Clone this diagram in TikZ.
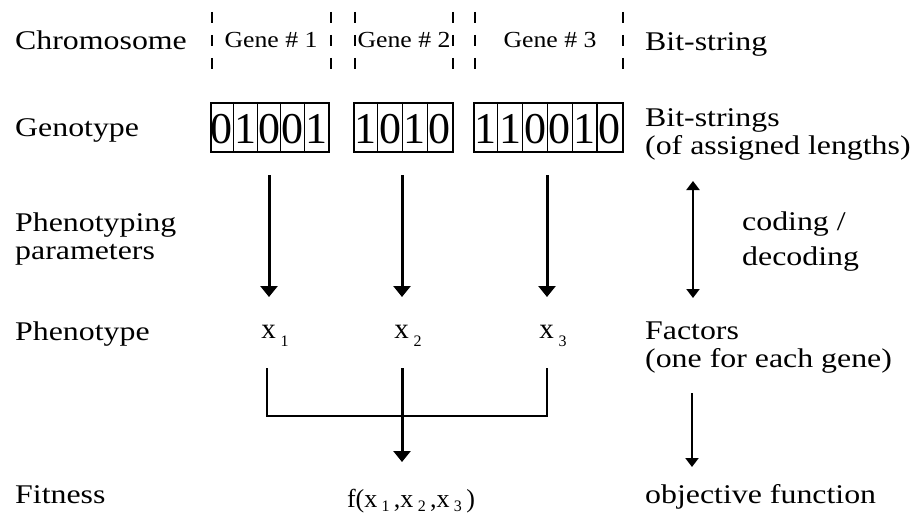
\documentclass[tikz,border=0pt]{standalone}
\usepackage{fontspec}
\setmainfont{Liberation Serif}
\newfontfamily\lbf[FakeStretch=1.18]{Liberation Serif}
\newfontfamily\gnf[FakeStretch=1.12]{Liberation Serif}
\usetikzlibrary{arrows.meta}
\newcommand\bitbox[5]{% name, left x, cell width, count, digits
  \node[bitframe, minimum width={#3*#4*1pt}, anchor=north west] (#1) at (#2,102) {};
  \foreach \d [count=\i] in {#5} {
    \node[digit] (#1-\i) at ({#2+(\i-0.5)*#3}, 143) {\d};
    \ifnum\i>1 \draw[divider] ({#2+(\i-1)*#3},102) -- ++(0,49); \fi
  }
}
\newcommand\xsub[2][8pt]{x\,\raisebox{-#1}{\fontsize{16}{16}\selectfont #2}}
\begin{document}
\begin{tikzpicture}[x=1pt, y={(0pt,-1pt)},
  lbl/.style={anchor=base west, inner sep=0pt, font=\lbf\fontsize{27}{28}\selectfont, align=left},
  gene/.style={anchor=base, inner sep=0pt, font=\gnf\fontsize{23}{23}\selectfont},
  digit/.style={anchor=base, inner sep=0pt, font=\fontsize{44}{44}\selectfont},
  bitframe/.style={draw, line width=1.8pt, minimum height=49pt, inner sep=0pt},
  divider/.style={line width=1.2pt},
  genesep/.style={line width=1.8pt, dash pattern=on 11pt off 12pt},
  xlab/.style={anchor=base, inner sep=0pt, font=\fontsize{29}{29}\selectfont},
  bigarrow/.style={line width=3pt, -{Triangle[width=17pt,length=11pt]}},
  medarrow/.style={line width=2.4pt, -{Triangle[width=13pt,length=9pt]}},
  dblarrow/.style={line width=2.4pt, {Triangle[width=13pt,length=9pt]}-{Triangle[width=13pt,length=9pt]}},
  bracket/.style={line width=1.5pt}]
\useasboundingbox (0,0) rectangle (922,519);

% left column (two-line nodes: base = baseline of last line)
\node[lbl] (chrom) at (15,50) {Chromosome};
\node[lbl] (geno) at (15,136) {Genotype};
\node[lbl] (ptpar) at (15,259) {Phenotyping\\parameters};
\node[lbl] (pheno) at (15,340) {Phenotype};
\node[lbl] (fit) at (15,503) {Fitness};

% right column
\node[lbl] (bs) at (645,51) {Bit-string};
\node[lbl] (bss) at (645,154) {Bit-strings\\(of assigned lengths)};
\node[lbl, font=\lbf\fontsize{27}{35}\selectfont] (cod) at (742,265) {coding /\\decoding};
\node[lbl] (fac) at (645,367) {Factors\\(one for each gene)};
\node[lbl] (obj) at (645,503) {objective function};

% genes
\foreach \xx in {212,331,355,453,475,623}
  \draw[genesep] (\xx,12) -- (\xx,80);
\node[gene] (gene1) at (271,48) {Gene \# 1};
\node[gene] (gene2) at (404,48) {Gene \# 2};
\node[gene] (gene3) at (550,48) {Gene \# 3};

% genotype boxes
\bitbox{b1}{210}{23.6}{5}{0,1,0,0,1}
\bitbox{b2}{353}{24.75}{4}{1,0,1,0}
\bitbox{b3}{473}{24.8}{6}{1,1,0,0,1,0}

% phenotype
\node[xlab] (x1) at (275,338) {\xsub{1}};
\node[xlab] (x2) at (408,338) {\xsub{2}};
\node[xlab] (x3) at (553,338) {\xsub{3}};

\coordinate (s1) at (269,175); \coordinate (t1) at (269,297);
\coordinate (s2) at (402,175); \coordinate (t2) at (402,297);
\coordinate (s3) at (547,175); \coordinate (t3) at (547,297);
\draw[bigarrow] (s1) -- (t1);
\draw[bigarrow] (s2) -- (t2);
\draw[bigarrow] (s3) -- (t3);

% combining bracket
\coordinate (c1) at (267,368); \coordinate (c3) at (547,368);
\coordinate (c2) at (402,368); \coordinate (ct) at (402,462);
\draw[bracket] (c1) |- (c3 |- 0,416) -- (c3);
\draw[bigarrow] (c2) -- (ct);

\node[anchor=base, inner sep=0pt, font=\fontsize{26}{26}\selectfont] (f) at (411,507)
  {f(\xsub[4pt]{1}\,,\xsub[4pt]{2}\,,\xsub[4pt]{3}\,)};

% right arrows
\coordinate (d1) at (693,181); \coordinate (d2) at (693,298);
\draw[dblarrow] (d1) -- (d2);
\coordinate (e1) at (692,393); \coordinate (e2) at (692,467);
\draw[medarrow] (e1) -- (e2);
\end{tikzpicture}
\end{document}
